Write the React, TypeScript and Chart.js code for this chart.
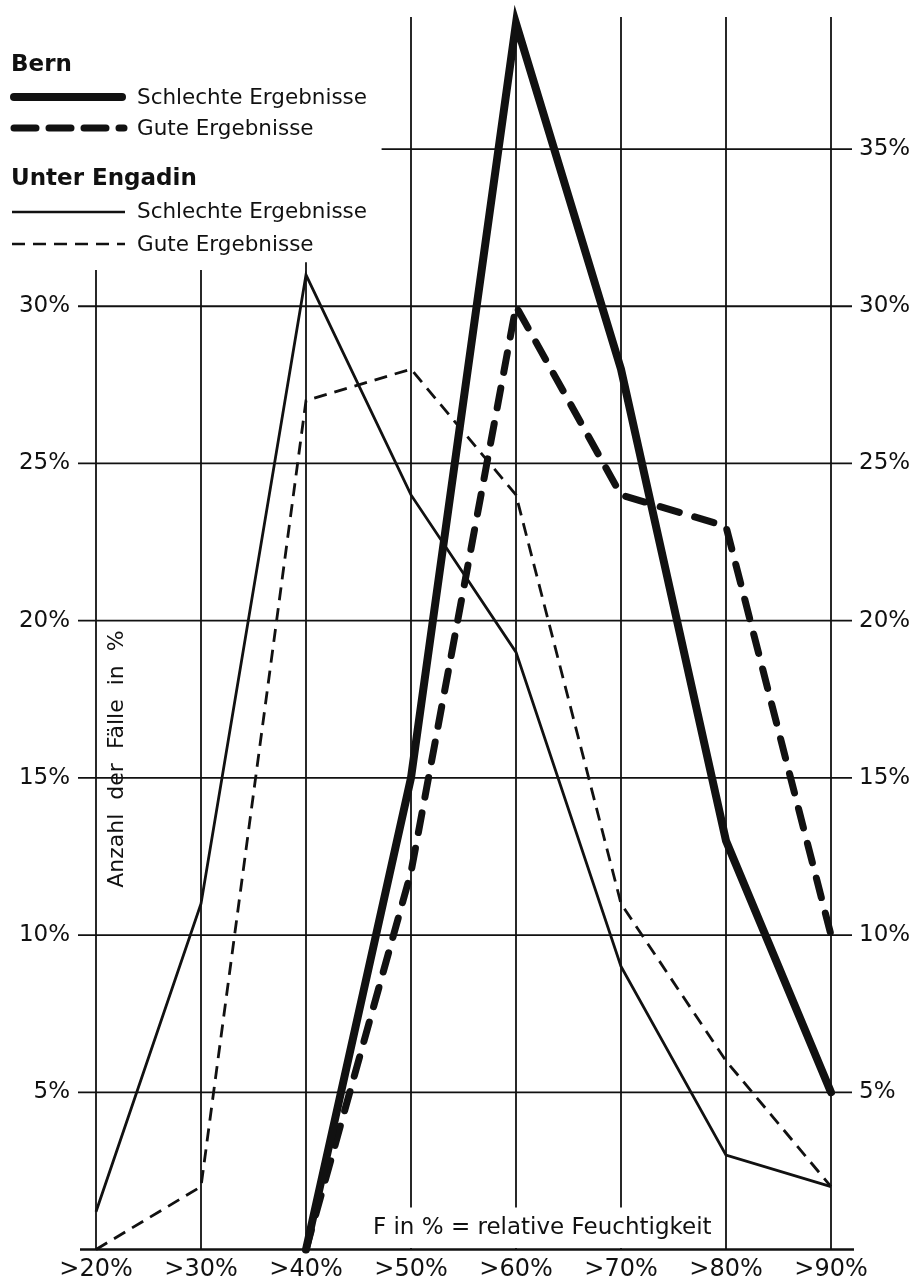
import React, { useEffect, useRef } from 'react';
import { Chart, registerables } from 'chart.js';

Chart.register(...registerables);

// ---------- data ----------
const categories = ['>20%', '>30%', '>40%', '>50%', '>60%', '>70%', '>80%', '>90%'];
const bernSchlechte = [null, null, 0, 15, 39, 28, 13, 5];
const bernGute = [null, null, 0, 12, 30, 24, 23, 10];
const engadinSchlechte = [1.2, 11, 31, 24, 19, 9, 3, 2];
const engadinGute = [0, 2, 27, 28, 24, 11, 6, 2];
const leftTicks = [5, 10, 15, 20, 25, 30];
const rightTicks = [5, 10, 15, 20, 25, 30, 35];
const yMax = 39.2;

const INK = '#111111';
const FONT = '"DejaVu Sans", sans-serif';

const zeroPad = (s: any) => {
  s.paddingTop = 0;
  s.paddingBottom = 0;
  s.paddingLeft = 0;
  s.paddingRight = 0;
};

const paperGrid = {
  id: 'paperGrid',
  beforeDatasetsDraw(chart: any) {
    const { ctx, chartArea: ca, scales } = chart;
    const x = scales.x;
    const y = scales.y;
    const y0 = y.getPixelForValue(0);
    ctx.save();
    ctx.strokeStyle = INK;
    ctx.lineCap = 'butt';
    ctx.lineWidth = 1.8;
    categories.forEach((_, i) => {
      const px = x.getPixelForValue(i);
      const topVal = i < 2 ? 31.15 : i === 2 ? 31.4 : yMax;
      ctx.beginPath();
      ctx.moveTo(px, y0);
      ctx.lineTo(px, y.getPixelForValue(topVal));
      ctx.stroke();
    });
    rightTicks.forEach((v) => {
      const py = y.getPixelForValue(v);
      const startX = v === 35 ? x.getPixelForValue(2.72) : ca.left - 18;
      ctx.beginPath();
      ctx.moveTo(startX, py);
      ctx.lineTo(ca.right + 21, py);
      ctx.stroke();
    });
    // white box behind the caption
    const bx0 = x.getPixelForValue(2.55);
    const bx1 = x.getPixelForValue(5.95);
    ctx.fillStyle = '#ffffff';
    ctx.fillRect(bx0, y0 - 42, bx1 - bx0, 40.5);
    // base line
    ctx.lineWidth = 2.6;
    ctx.beginPath();
    ctx.moveTo(ca.left - 16, y0);
    ctx.lineTo(ca.right + 23, y0);
    ctx.stroke();
    // caption
    ctx.fillStyle = INK;
    ctx.font = '23px ' + FONT;
    ctx.textAlign = 'center';
    ctx.textBaseline = 'middle';
    ctx.fillText('F in % = relative Feuchtigkeit', (bx0 + bx1) / 2, y0 - 21);
    // rotated axis title
    ctx.save();
    ctx.translate(ca.left + 21, y.getPixelForValue(15.6));
    ctx.rotate(-Math.PI / 2);
    ctx.font = '22px ' + FONT;
    ctx.fillText('Anzahl  der  Fälle  in  %', 0, 0);
    ctx.restore();
    ctx.restore();
  },
};

const paperLegend = {
  id: 'paperLegend',
  afterDraw(chart: any) {
    const { ctx } = chart;
    ctx.save();
    ctx.fillStyle = INK;
    ctx.strokeStyle = INK;
    ctx.textAlign = 'left';
    ctx.textBaseline = 'alphabetic';

    ctx.font = 'bold 23px ' + FONT;
    ctx.fillText('Bern', 11, 71);
    ctx.fillText('Unter Engadin', 11, 185);

    ctx.font = '21.5px ' + FONT;
    ctx.fillText('Schlechte Ergebnisse', 137, 104);
    ctx.fillText('Gute Ergebnisse', 137, 135);
    ctx.fillText('Schlechte Ergebnisse', 137, 218);
    ctx.fillText('Gute Ergebnisse', 137, 251);

    // Bern schlecht: thick solid
    ctx.lineCap = 'round';
    ctx.lineWidth = 8;
    ctx.setLineDash([]);
    ctx.beginPath();
    ctx.moveTo(14, 97);
    ctx.lineTo(122, 97);
    ctx.stroke();
    // Bern gut: thick dashed
    ctx.lineWidth = 7;
    ctx.setLineDash([22, 13]);
    ctx.beginPath();
    ctx.moveTo(14, 128);
    ctx.lineTo(124, 128);
    ctx.stroke();
    // Engadin schlecht: thin solid
    ctx.lineCap = 'butt';
    ctx.lineWidth = 2.6;
    ctx.setLineDash([]);
    ctx.beginPath();
    ctx.moveTo(12, 212);
    ctx.lineTo(125, 212);
    ctx.stroke();
    // Engadin gut: thin dashed
    ctx.setLineDash([13, 8]);
    ctx.beginPath();
    ctx.moveTo(12, 244);
    ctx.lineTo(125, 244);
    ctx.stroke();
    ctx.restore();
  },
};

export default function App() {
  const canvasRef = useRef<HTMLCanvasElement | null>(null);

  useEffect(() => {
    const canvas = canvasRef.current;
    if (!canvas) return;
    Chart.defaults.font.family = FONT;
    Chart.defaults.color = INK;

    const chart = new Chart(canvas, {
      type: 'line',
      data: {
        labels: categories,
        datasets: [
          {
            label: 'Bern – Schlechte Ergebnisse',
            data: bernSchlechte,
            borderColor: INK,
            borderWidth: 8,
            borderJoinStyle: 'miter',
            borderCapStyle: 'round',
            clip: false,
          },
          {
            label: 'Bern – Gute Ergebnisse',
            data: bernGute,
            borderColor: INK,
            borderWidth: 7,
            borderDash: [20, 16],
            borderJoinStyle: 'round',
            borderCapStyle: 'round',
            clip: false,
          },
          {
            label: 'Unter Engadin – Schlechte Ergebnisse',
            data: engadinSchlechte,
            borderColor: INK,
            borderWidth: 2.8,
            borderJoinStyle: 'miter',
            clip: false,
          },
          {
            label: 'Unter Engadin – Gute Ergebnisse',
            data: engadinGute,
            borderColor: INK,
            borderWidth: 2.8,
            borderDash: [13, 8],
            borderJoinStyle: 'miter',
            clip: false,
          },
        ] as any,
      },
      options: {
        animation: false,
        responsive: false,
        maintainAspectRatio: false,
        layout: { padding: { top: 17, left: 0, right: 0, bottom: 0 } },
        elements: { point: { radius: 0, hoverRadius: 0 }, line: { tension: 0, fill: false } },
        plugins: { legend: { display: false }, tooltip: { enabled: false } },
        scales: {
          x: {
            type: 'category',
            offset: false,
            grid: { display: false, drawTicks: false },
            border: { display: false },
            ticks: {
              color: INK,
              font: { size: 24, family: FONT },
              padding: 6,
              maxRotation: 0,
              autoSkip: false,
            },
            afterFit(s: any) {
              s.height = 34.5;
              zeroPad(s);
            },
          },
          y: {
            position: 'left',
            min: 0,
            max: yMax,
            grid: { display: false, drawTicks: false },
            border: { display: false },
            afterBuildTicks(s: any) {
              s.ticks = leftTicks.map((v) => ({ value: v }));
            },
            ticks: {
              color: INK,
              font: { size: 23, family: FONT },
              padding: 26,
              callback: (v: any) => v + '%',
            },
            afterFit(s: any) {
              s.width = 96;
              zeroPad(s);
            },
          },
          y2: {
            position: 'right',
            min: 0,
            max: yMax,
            grid: { display: false, drawTicks: false },
            border: { display: false },
            afterBuildTicks(s: any) {
              s.ticks = rightTicks.map((v) => ({ value: v }));
            },
            ticks: {
              color: INK,
              font: { size: 23, family: FONT },
              padding: 28,
              callback: (v: any) => v + '%',
            },
            afterFit(s: any) {
              s.width = 85;
              zeroPad(s);
            },
          },
        },
      } as any,
      plugins: [paperGrid, paperLegend],
    });

    return () => chart.destroy();
  }, []);

  return (
    <div style={{ position: 'absolute', left: 0, top: 0, width: 916, height: 1284, background: '#ffffff' }}>
      <canvas ref={canvasRef} width={916} height={1284} style={{ display: 'block', width: 916, height: 1284 }} />
    </div>
  );
}
